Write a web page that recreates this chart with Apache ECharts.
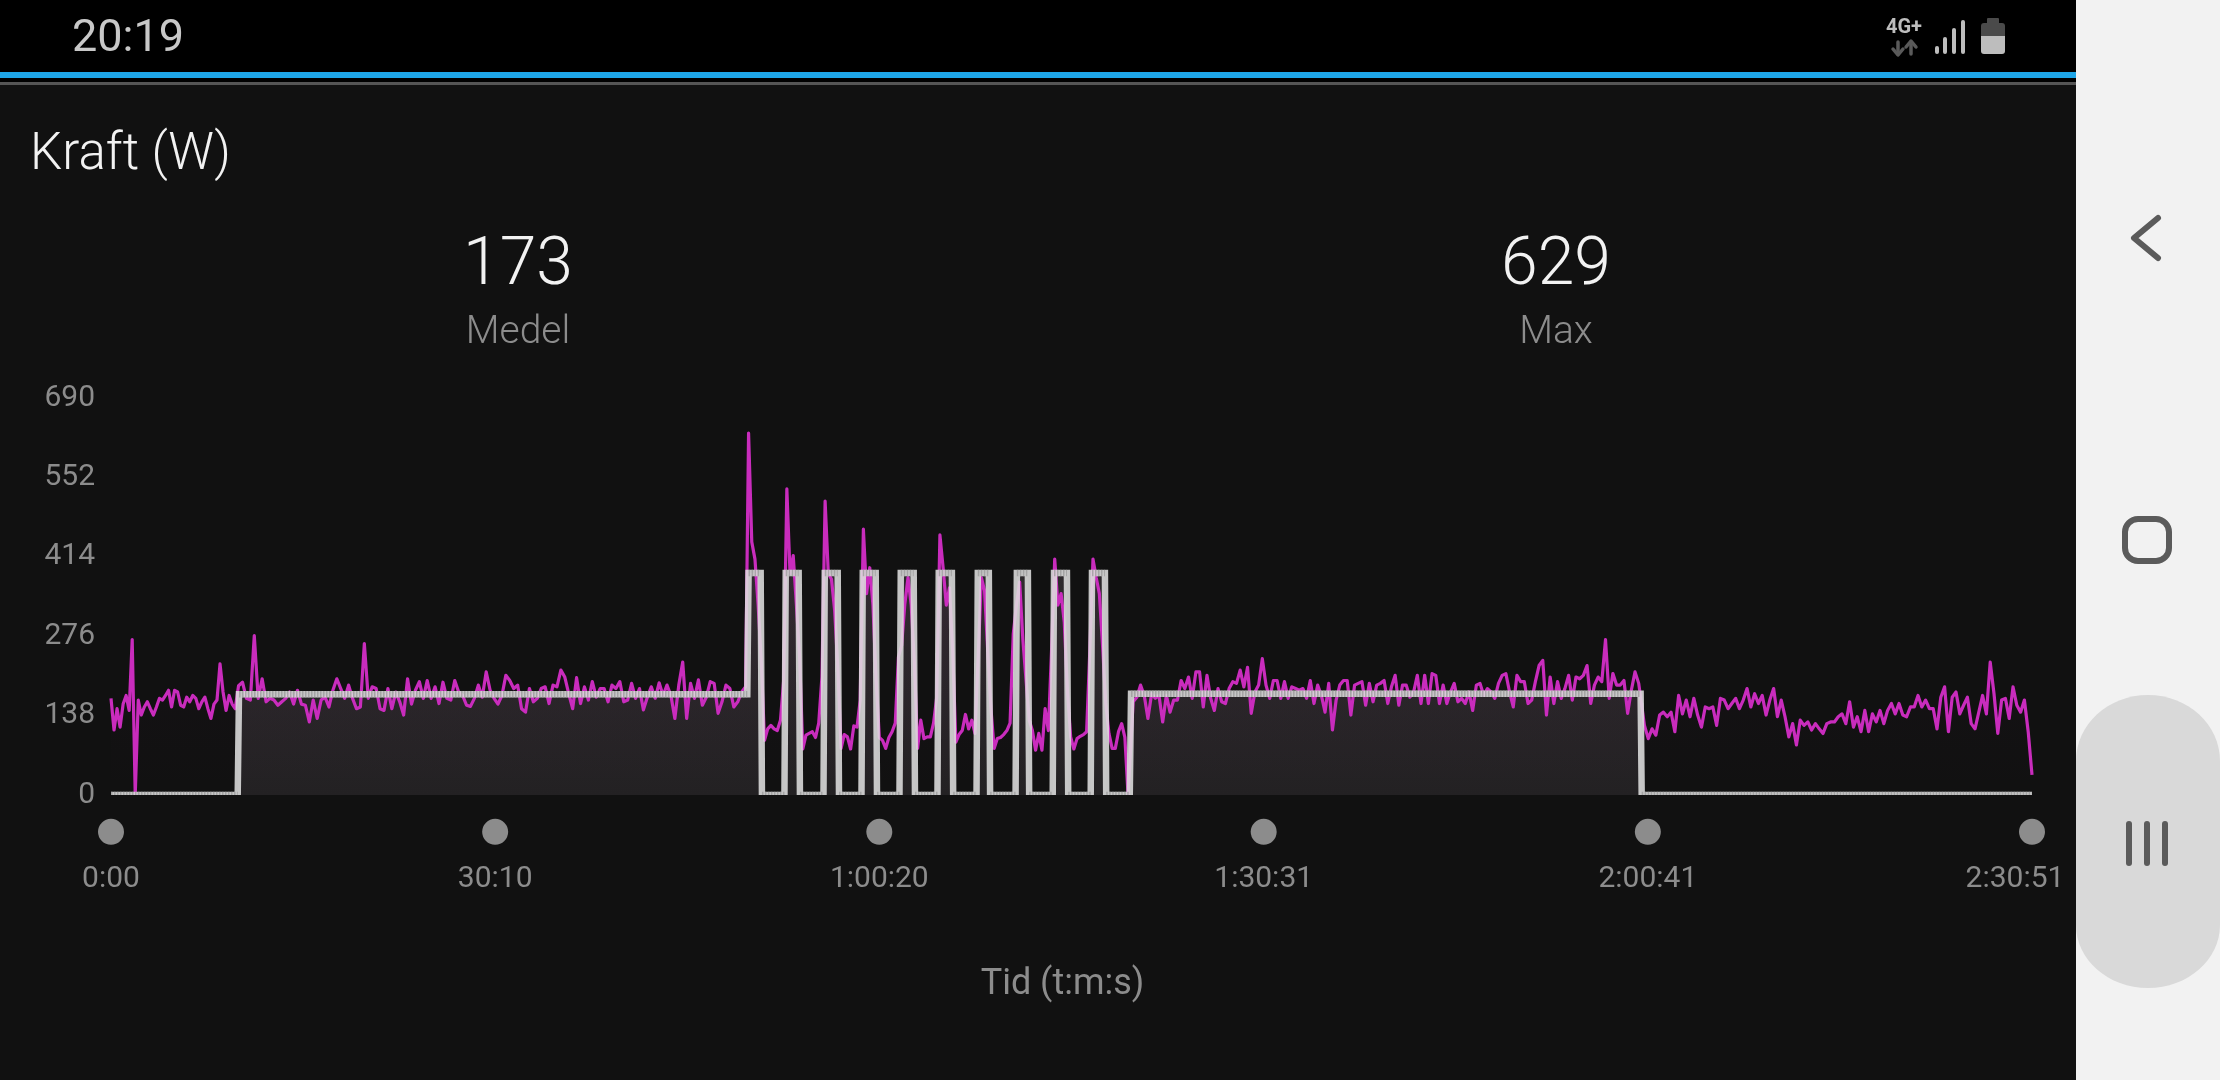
<!DOCTYPE html>
<html lang="sv">
<head>
    <meta charset="UTF-8">
    <title>Kraft (W)</title>
    <script src="https://cdn.jsdelivr.net/npm/echarts@6/dist/echarts.min.js"></script>
    <style>
        html, body { margin: 0; padding: 0; background: #111111; }
        #chart { width: 2220px; height: 1080px; }
    </style>
</head>
<body>
    <div id="chart"></div>

    <script>
        // y axis
        const yTicks = [0, 138, 276, 414, 552, 690];
        // x axis: seconds and what the app prints for them
        const tickSeconds = [0, 1810, 3620, 5431, 7241, 9051];
        const tickLabels = ['0:00', '30:10', '1:00:20', '1:30:31', '2:00:41', '2:30:51'];

        const warmupWatts = [168, 113, 150, 118, 158, 173, 147, 270, 0, 165, 139, 153, 162, 150, 139, 153, 168, 165, 173, 182, 153, 182, 179, 156, 153, 170, 162, 173, 168, 150, 162, 170, 150, 133, 158, 165, 228, 179, 147, 173, 158, 150];
        const firstBlockWatts = [190, 196, 168, 165, 277, 168, 202, 162, 168, 165, 156, 162, 168, 179, 158, 182, 158, 156, 127, 165, 133, 165, 170, 153, 182, 202, 185, 168, 191, 168, 150, 153, 263, 168, 188, 185, 150, 147, 185, 150, 179, 162, 139, 202, 158, 182, 197, 168, 199, 168, 188,
            159, 196, 168, 165, 199, 179, 173, 156, 154, 168, 191, 170, 214, 182, 168, 158, 173, 208, 199, 185, 191, 150, 144, 185, 162, 168, 185, 188, 159, 191, 188, 217, 205, 176, 150, 204, 159, 188, 165, 197, 170, 185, 185, 162, 191, 185, 197, 162, 165, 194, 168, 185, 148, 170, 188, 168, 195, 173, 191, 173, 133, 191, 231, 133, 194, 168, 200, 156, 170, 197, 194, 142, 162, 191, 185, 153, 162, 179, 188];
        const intervalWatts = [629, 440, 410, 330, 230, 95, 115, 121, 115, 112, 130, 199,
            532, 385, 416, 330, 240, 80, 104, 107, 110, 100, 125, 205,
            511, 385, 375, 320, 220, 81, 105, 101, 80, 120, 118, 165,
            462, 350, 395, 330, 200, 100, 95, 81, 100, 110, 125, 240,
            260, 332, 378, 330, 230, 81, 130, 98, 101, 101, 125, 170,
            452, 395, 330, 360, 250, 92, 105, 112, 140, 115, 130, 107,
            240, 378, 355, 250, 150, 81, 98, 100, 105, 112, 125, 280,
            330, 370, 271, 200, 130, 112, 78, 107, 78, 150, 112, 250,
            410, 330, 350, 300, 180, 101, 80, 98, 102, 105, 110, 250,
            410, 378, 350, 260, 160, 107, 81, 81, 110, 124, 100, 0];
        const secondBlockWatts = [162, 170, 191, 173, 133, 176, 168, 173, 127, 173, 144, 165, 165, 199, 185, 205, 168, 214, 214, 153, 208, 168, 147, 185, 162, 159, 185, 197, 194, 217, 188, 222, 142, 179, 191, 237, 191, 168, 199, 199, 168, 197, 168, 188, 185, 182, 185, 168, 199, 159, 191, 173, 144, 194, 113, 165, 191, 199, 199, 139, 191, 194, 197, 156, 194, 162, 191, 194, 199, 159, 188, 208, 156, 191,
            191, 170, 179, 208, 159, 208, 159, 211, 208, 159, 191, 159, 179, 194, 162, 168, 159, 179, 147, 191, 194, 173, 185, 179, 168, 194, 208, 211, 179, 153, 208, 197, 197, 159, 165, 197, 225, 234, 139, 205, 159, 197, 168, 185, 208, 165, 205, 202, 208, 225, 159, 191, 205, 197, 270, 168, 211, 191, 191, 199, 142, 182, 214, 194];
        const cooldownWatts = [121, 98, 115, 104, 139, 144, 136, 144, 110, 173, 141, 165, 136, 168, 139, 118, 153, 150, 153, 121, 168, 165, 150, 159, 168, 150, 165, 185, 153, 176, 159, 173, 139, 165, 185, 136, 165, 136, 101, 124, 87, 130, 121, 127, 113, 124, 115, 107, 124, 127, 127, 136, 141, 124, 162, 118, 136, 110, 147, 110, 141, 127, 147, 124, 147, 159, 141, 159, 139, 136, 153, 153, 173, 153, 165, 150, 150, 115, 170, 188, 110, 170, 179, 141, 156, 170, 124, 115, 144, 173, 141, 231, 176, 107, 165, 168, 133, 188, 156, 144, 165, 110, 35];

        // where each list starts and ends, seconds
        const sectionStarts = [0, 601, 3004, 4816, 7225];
        const sectionEnds = [585, 2990, 4792, 7198, 9051];

        // planned power
        const targetSeconds = [0, 597, 603, 2998, 3004, 3061, 3067, 3173, 3179, 3240, 3246, 3357, 3363, 3424, 3430, 3536, 3542, 3603, 3609, 3715, 3721, 3782, 3788, 3894, 3900, 3962, 3968, 4078, 4084, 4136, 4142, 4262, 4268, 4320, 4326, 4437, 4443, 4504, 4510, 4616, 4622, 4683, 4689, 4800, 4806, 7207, 7212, 9051];
        const targetWatts = [0, 0, 175, 175, 386, 386, 0, 0, 386, 386, 0, 0, 386, 386, 0, 0, 386, 386, 0, 0, 386, 386, 0, 0, 386, 386, 0, 0, 386, 386, 0, 0, 386, 386, 0, 0, 386, 386, 0, 0, 386, 386, 0, 0, 176, 176, 0, 0];

        const powerSections = [warmupWatts, firstBlockWatts, intervalWatts, secondBlockWatts, cooldownWatts];
        const powerData = [];
        powerSections.forEach((watts, s) => {
            const step = (sectionEnds[s] - sectionStarts[s]) / (watts.length - 1);
            watts.forEach((w, i) => powerData.push([sectionStarts[s] + i * step, w]));
        });

        const targetData = targetSeconds.map((t, i) => [t, targetWatts[i]]);
        // grainy pattern only shows on the flat parts of the plan
        const flatData = [];
        targetData.forEach((p, i) => {
            if (i > 0 && targetWatts[i] !== targetWatts[i - 1]) flatData.push([p[0], null]);
            flatData.push(p);
        });

        const font = 'Roboto';
        const grey = '#8c8c8c';
        const nav = '#5b5b5b';

        const text = (str, x, y, size, color, align, weight) => ({
            type: 'text', z: 20,
            style: { text: str, x, y, fill: color, font: (weight || 400) + ' ' + size + 'px ' + font, textAlign: align || 'left', textVerticalAlign: 'middle' }
        });
        const rect = (x, y, width, height, fill, r) => ({
            type: 'rect', z: 10, shape: { x, y, width, height, r: r || 0 }, style: { fill }
        });
        const stroke = (points, color, lineWidth) => ({
            type: 'polyline', z: 12, shape: { points }, style: { stroke: color, fill: null, lineWidth, lineCap: 'round', lineJoin: 'round' }
        });

        const chart = echarts.init(document.getElementById('chart'), null, { renderer: 'canvas' });
        chart.setOption({
            animation: false,
            backgroundColor: '#111111',
            tooltip: { show: false },
            grid: { left: 111, right: 188, top: 398, height: 397 },
            xAxis: {
                type: 'value', min: 0, max: 9051,
                name: 'Tid (t:m:s)', nameLocation: 'middle', nameGap: 172,
                nameTextStyle: { color: grey, fontFamily: font, fontSize: 36, padding: [0, 18, 0, 0] },
                axisLine: { show: false }, axisTick: { show: false }, splitLine: { show: false },
                axisLabel: {
                    customValues: tickSeconds,
                    margin: 69,
                    color: grey, fontFamily: font, fontSize: 30,
                    formatter: (v) => {
                        const label = tickLabels[tickSeconds.indexOf(v)];
                        return v === tickSeconds[tickSeconds.length - 1] ? '{last|' + label + '}' : label;
                    },
                    rich: { last: { color: grey, fontFamily: font, fontSize: 30, padding: [0, 34, 0, 0] } }
                }
            },
            yAxis: {
                type: 'value', min: yTicks[0], max: yTicks[yTicks.length - 1], interval: 138,
                axisLine: { show: false }, axisTick: { show: false }, splitLine: { show: false },
                axisLabel: { margin: 16, color: grey, fontFamily: font, fontSize: 30, padding: [7, 0, 0, 0] }
            },
            series: [
                {
                    name: 'Mål yta', type: 'line', z: 1, data: targetData, symbol: 'none', silent: true,
                    lineStyle: { width: 0 },
                    areaStyle: { color: new echarts.graphic.LinearGradient(0, 0, 0, 1, [
                        { offset: 0, color: '#2e2a2d' }, { offset: 1, color: '#232123' }
                    ]), opacity: 1 }
                },
                {
                    name: 'Kraft', type: 'line', z: 2, data: powerData, symbol: 'none', silent: true,
                    lineStyle: { color: '#c92cbd', width: 3.2, join: 'round' },
                    areaStyle: { color: new echarts.graphic.LinearGradient(0, 0, 0, 1, [
                        { offset: 0, color: 'rgba(200,44,189,0.07)' }, { offset: 1, color: 'rgba(200,44,189,0)' }
                    ]) }
                },
                {
                    name: 'Mål', type: 'line', z: 3, data: targetData, symbol: 'none', silent: true,
                    lineStyle: { color: 'rgba(222,222,222,0.88)', width: 6.5, join: 'miter', cap: 'butt' }
                },
                {
                    name: 'Mål raster', type: 'line', z: 4, data: flatData, symbol: 'none', silent: true, connectNulls: false,
                    lineStyle: { color: 'rgba(150,150,150,0.7)', width: 6.5, type: [1.5, 1.5], cap: 'butt' }
                },
                {
                    name: 'Tid', type: 'scatter', z: 5, clip: false, silent: true, symbolSize: 26,
                    data: tickSeconds.map(t => [t, -64]),
                    itemStyle: { color: '#8c8c8c', opacity: 1 }
                }
            ],
            graphic: [
                // hides the lower half of the plan line, the app clips it at zero
                rect(100, 795, 1960, 6, '#111111'),

                // status bar
                rect(0, 0, 2076, 72, '#000000'),
                rect(0, 72, 2076, 6, '#1ea6e8'),
                rect(0, 78, 2076, 4, '#000000'),
                rect(0, 82, 2076, 3, '#555555'),
                text('20:19', 72, 40, 45, '#c8c8c8'),
                text('4G+', 1904, 28, 20, '#bdbdbd', 'center', 700),
                stroke([[1898, 42], [1898, 54]], '#5a5a5a', 3.5),
                stroke([[1893, 49], [1898, 55], [1903, 49]], '#5a5a5a', 3.5),
                stroke([[1911, 42], [1911, 54]], '#5a5a5a', 3.5),
                stroke([[1906, 47], [1911, 41], [1916, 47]], '#5a5a5a', 3.5),
                rect(1935, 46, 4, 8, '#bdbdbd', 2),
                rect(1943, 37, 4, 17, '#bdbdbd', 2),
                rect(1952, 28, 4, 26, '#bdbdbd', 2),
                rect(1961, 20, 4, 34, '#bdbdbd', 2),
                rect(1987, 18, 12, 6, '#4a4a4a', 1),
                rect(1981, 23, 24, 14, '#4a4a4a', [3, 3, 0, 0]),
                rect(1981, 36, 24, 18, '#bdbdbd', [0, 0, 3, 3]),

                // headline
                text('Kraft (W)', 30, 156, 51, '#f2f2f2', 'left', 300),
                text('173', 518, 267, 66, '#f2f2f2', 'center', 300),
                text('Medel', 518, 333, 39, grey, 'center', 300),
                text('629', 1556, 267, 66, '#f2f2f2', 'center', 300),
                text('Max', 1556, 333, 39, grey, 'center', 300),

                // navigation bar
                rect(2076, 0, 144, 1080, '#f2f2f2'),
                { type: 'ellipse', z: 11, shape: { cx: 2148, cy: 761, rx: 72, ry: 66 }, style: { fill: '#d9d9d9' } },
                { type: 'ellipse', z: 11, shape: { cx: 2148, cy: 925, rx: 72, ry: 63 }, style: { fill: '#d9d9d9' } },
                { type: 'rect', z: 11, shape: { x: 2076, y: 761, width: 144, height: 164 }, style: { fill: '#d9d9d9' } },
                stroke([[2158, 218], [2134, 238], [2158, 258]], nav, 6),
                { type: 'rect', z: 12, shape: { x: 2125, y: 519, width: 44, height: 42, r: 13 }, style: { stroke: nav, fill: null, lineWidth: 6 } },
                { type: 'rect', z: 12, shape: { x: 2126, y: 821, width: 6, height: 45, r: 3 }, style: { fill: nav } },
                { type: 'rect', z: 12, shape: { x: 2144, y: 821, width: 6, height: 45, r: 3 }, style: { fill: nav } },
                { type: 'rect', z: 12, shape: { x: 2162, y: 821, width: 6, height: 45, r: 3 }, style: { fill: nav } }
            ]
        });
    </script>
</body>
</html>
